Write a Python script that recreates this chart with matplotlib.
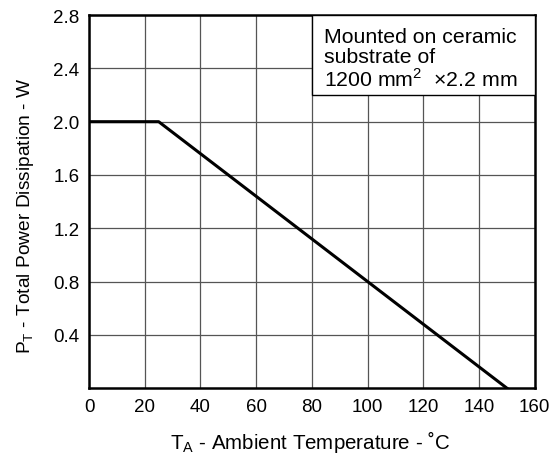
import matplotlib.pyplot as plt
from matplotlib.patches import Rectangle

plt.rcParams['font.family'] = ['Liberation Sans', 'DejaVu Sans']
plt.rcParams['mathtext.fontset'] = 'custom'
plt.rcParams['mathtext.rm'] = 'Liberation Sans'

# derating curve: ambient temperature (C) vs total power dissipation (W)
temp_c = [0, 25, 150]
power_w = [2.0, 2.0, 0.0]

x_ticks = [0, 20, 40, 60, 80, 100, 120, 140, 160]
y_ticks = [0.4, 0.8, 1.2, 1.6, 2.0, 2.4, 2.8]

note_lines = ["Mounted on ceramic", "substrate of", "1200 mm$^\\mathregular{2}$  $\\times$2.2 mm"]

fig = plt.figure(figsize=(5.53, 4.6), dpi=100)
ax = fig.add_axes([0.161, 0.154, 0.806, 0.811])

ax.set_xlim(0, 160)
ax.set_ylim(0, 2.8)
ax.set_xticks(x_ticks)
ax.set_yticks(y_ticks)
ax.set_xticklabels([str(t) for t in x_ticks])
ax.set_yticklabels([f"{t:.1f}" for t in y_ticks])
ax.tick_params(length=0, labelsize=13.5, pad=7)
ax.grid(True, color='#555555', linewidth=0.9)
ax.set_axisbelow(True)
for s in ax.spines.values():
    s.set_linewidth(1.8)

ax.plot(temp_c, power_w, color='black', linewidth=2.2, zorder=3)

# note box in the upper right corner
ax.add_patch(Rectangle((80, 2.2), 80, 0.6, facecolor='white', edgecolor='black',
                       linewidth=1.0, zorder=4))
ax.text(84.5, 2.71, "\n".join(note_lines), fontsize=15.3, va='top', ha='left',
        linespacing=1.05, zorder=5)

ax.set_xlabel("T$_\\mathregular{A}$ - Ambient Temperature - ˚C", fontsize=14.8)
ax.set_ylabel("P$_\\mathregular{T}$ - Total Power Dissipation - W", fontsize=13.8)
ax.xaxis.set_label_coords(0.496, -0.108)
ax.yaxis.set_label_coords(-0.12, 0.464)

fig.savefig("out.png", dpi=100)
